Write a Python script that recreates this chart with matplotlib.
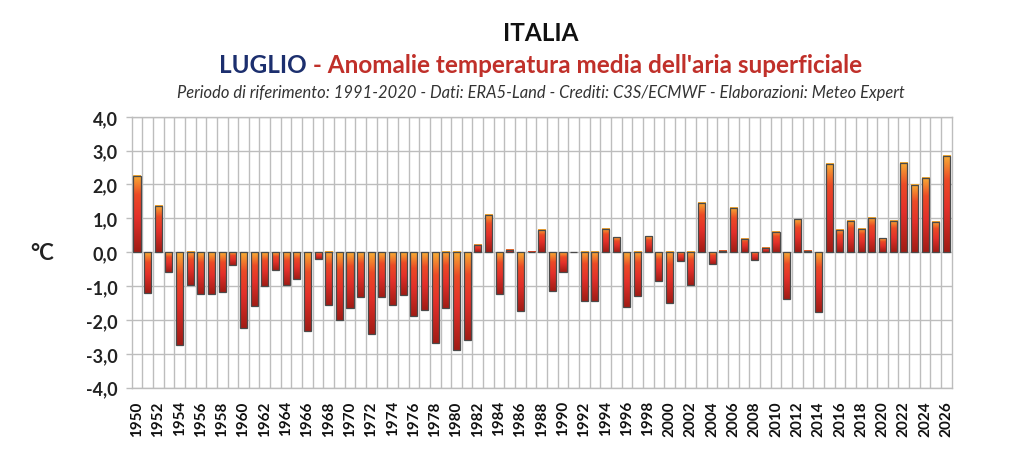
import numpy as np
import matplotlib
matplotlib.use("Agg")
import matplotlib.pyplot as plt
from matplotlib.colors import LinearSegmentedColormap
from matplotlib.ticker import FixedLocator, FuncFormatter


# data ################
years = list(range(1950, 2027))
anomalies = [
    2.25, -1.19, 1.36, -0.57, -2.74, -0.98, -1.22, -1.22, -1.17, -0.37,
    -2.24, -1.59, -1.00, -0.53, -0.97, -0.78, -2.33, -0.20, -1.57, -2.00,
    -1.64, -1.32, -2.40, -1.31, -1.55, -1.25, -1.87, -1.71, -2.67, -1.66,
    -2.90, -2.58, 0.22, 1.10, -1.22, 0.07, -1.73, 0.01, 0.65, -1.15,
    -0.59, 0.00, -1.45, -1.45, 0.70, 0.44, -1.61, -1.30, 0.47, -0.84,
    -1.51, -0.26, -0.98, 1.45, -0.34, 0.05, 1.30, 0.40, -0.22, 0.13,
    0.61, -1.37, 0.97, 0.03, -1.77, 2.61, 0.65, 0.92, 0.70, 1.02,
    0.41, 0.92, 2.63, 1.98, 2.19, 0.90, 2.85,
]
y_ticks = [-4, -3, -2, -1, 0, 1, 2, 3, 4]
title = "ITALIA"
month = "LUGLIO"
subtitle = "- Anomalie temperatura media dell'aria superficiale"
credits = ("Periodo di riferimento: 1991-2020 - Dati: ERA5-Land - "
           "Crediti: C3S/ECMWF - Elaborazioni: Meteo Expert")
#######################

plt.rcParams["font.family"] = ["Lato", "DejaVu Sans"]

fig = plt.figure(figsize=(10.24, 4.6), dpi=100)
ax = fig.add_axes([0.1286, 0.155, 0.8008, 0.589])

cmap = LinearSegmentedColormap.from_list(
    "bar_grad",
    [(0.0, "#a11c15"), (0.45, "#e3302a"), (0.75, "#ec4a26"), (1.0, "#f7ae35")],
)
grad = np.linspace(0, 1, 128).reshape(-1, 1)

x = np.arange(len(years))
width = 0.66

for xi, v in zip(x, anomalies):
    if abs(v) < 1e-6:
        continue
    lo, hi = min(0, v), max(0, v)
    ax.imshow(
        grad,
        cmap=cmap,
        origin="lower",
        extent=[xi - width / 2, xi + width / 2, lo, hi],
        aspect="auto",
        zorder=2,
        interpolation="bilinear",
    )

ax.bar(
    x, anomalies, width=width,
    facecolor="none", edgecolor="#4a4a4a", linewidth=0.9, zorder=3,
)

ax.set_xlim(-0.5, len(years) - 0.5)
ax.set_ylim(-4, 4)

# grid lines: between categories (vertical) and at each integer (horizontal)
ax.xaxis.set_minor_locator(FixedLocator(x[:-1] + 0.5))
ax.set_xticks(x[::2])
ax.set_xticklabels([str(y) for y in years[::2]], rotation=90,
                   fontsize=11, fontweight="bold", color="#111111")
ax.grid(which="minor", axis="x", color="#bdbdbd", linewidth=1.0, zorder=0)
ax.set_yticks(y_ticks)
ax.yaxis.set_major_formatter(FuncFormatter(lambda v, p: f"{v:.1f}".replace(".", ",")))
ax.grid(which="major", axis="y", color="#bdbdbd", linewidth=1.0, zorder=0)
ax.tick_params(axis="x", which="both", length=0, pad=9)
ax.tick_params(axis="y", length=4, color="#bdbdbd", width=1.0, pad=6,
               labelsize=13)
for lab in ax.get_yticklabels():
    lab.set_fontweight("bold")
    lab.set_color("#222222")

for side in ["left", "right", "top", "bottom"]:
    ax.spines[side].set_color("#bdbdbd")
    ax.spines[side].set_linewidth(1.0)

fig.text(0.041, 0.449, "°C", fontsize=16, fontweight="bold",
         ha="center", va="center", color="#222222")

# titles
fig.text(0.528, 0.928, title, fontsize=17.5, fontweight="bold",
         ha="center", va="center", color="#111111")

renderer = fig.canvas.get_renderer()
t1 = fig.text(0, 0.858, month, fontsize=17.5, fontweight="bold",
              color="#1c2f6e", ha="left", va="center")
t2 = fig.text(0, 0.858, " " + subtitle, fontsize=17.5, fontweight="bold",
              color="#c0302a", ha="left", va="center")
w1 = t1.get_window_extent(renderer).width / fig.bbox.width
w2 = t2.get_window_extent(renderer).width / fig.bbox.width
start = 0.528 - (w1 + w2) / 2
t1.set_x(start)
t2.set_x(start + w1)

fig.text(0.528, 0.797, credits, fontsize=11.9, style="italic",
         ha="center", va="center", color="#333333")

fig.savefig("out.png", dpi=100, facecolor="white")
